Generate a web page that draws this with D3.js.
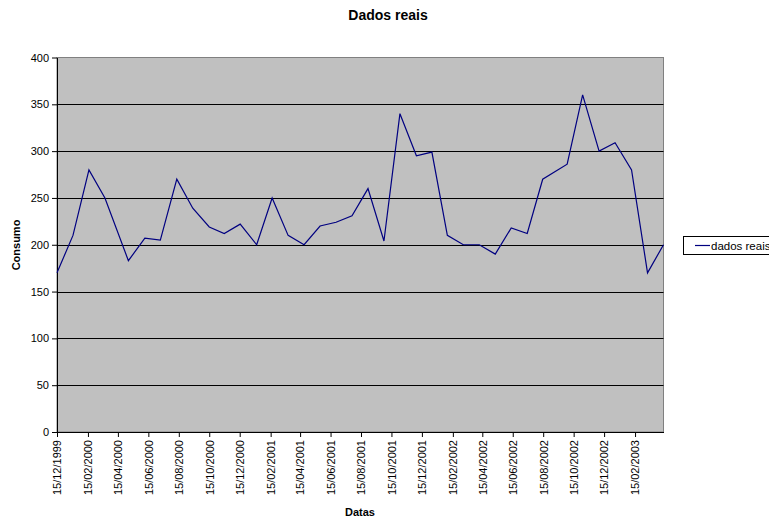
<!DOCTYPE html>
<html>
<head>
<meta charset="utf-8">
<script src="https://cdn.jsdelivr.net/npm/d3@7/dist/d3.min.js"></script>
<style>
  html, body { margin: 0; padding: 0; background: #ffffff; }
  svg { display: block; font-family: "Liberation Sans", Arial, sans-serif; }
</style>
</head>
<body>
<svg id="chart" width="769" height="519"></svg>
<script>
// ---- data ----
const dates = [
  "15/12/1999","16/01/2000","17/02/2000","20/03/2000","06/05/2000","08/06/2000",
  "09/07/2000","11/08/2000","12/09/2000","15/10/2000","14/11/2000","16/12/2000",
  "18/01/2001","18/02/2001","22/03/2001","23/04/2001","25/05/2001","26/06/2001",
  "28/07/2001","29/08/2001","30/09/2001","01/11/2001","04/12/2001","04/01/2002",
  "04/02/2002","08/03/2002","09/04/2002","11/05/2002","12/06/2002","14/07/2002",
  "14/08/2002","02/10/2002","02/11/2002","05/12/2002","06/01/2003","08/02/2003",
  "12/03/2003","13/04/2003"
];
const consumo = [
  170, 210, 280, 250, 183, 207,
  205, 270, 239, 219, 212, 222,
  200, 250, 210, 200, 220, 224,
  231, 260, 204, 340, 295, 299,
  210, 200, 200, 190, 218, 212,
  270, 286, 360, 300, 309, 280,
  170, 200
];
const xTickLabels = [
  "15/12/1999","15/02/2000","15/04/2000","15/06/2000","15/08/2000","15/10/2000",
  "15/12/2000","15/02/2001","15/04/2001","15/06/2001","15/08/2001","15/10/2001",
  "15/12/2001","15/02/2002","15/04/2002","15/06/2002","15/08/2002","15/10/2002",
  "15/12/2002","15/02/2003"
];
const yTicks = [0, 50, 100, 150, 200, 250, 300, 350, 400];
const seriesName = "dados reais";
const title = "Dados reais";
const xTitle = "Datas";
const yTitle = "Consumo";

// ---- layout ----
const parse = d3.timeParse("%d/%m/%Y");
const svg = d3.select("#chart");
const plot = { left: 57, top: 57.5, right: 663.5, bottom: 432 };

const points = dates.map((d, i) => ({ date: parse(d), value: consumo[i] }));

const x = d3.scaleTime()
  .domain(d3.extent(points, d => d.date))
  .range([plot.left, plot.right]);
const y = d3.scaleLinear()
  .domain([0, 400])
  .range([plot.bottom, plot.top]);

// plot background
svg.append("rect")
  .attr("x", plot.left).attr("y", plot.top)
  .attr("width", plot.right - plot.left).attr("height", plot.bottom - plot.top)
  .attr("fill", "#c0c0c0")
  .attr("stroke", "#808080").attr("stroke-width", 1);

// gridlines
svg.append("g")
  .selectAll("line")
  .data(yTicks.filter(v => v > 0 && v < 400))
  .join("line")
  .attr("x1", plot.left).attr("x2", plot.right)
  .attr("y1", d => Math.round(y(d)) + 0.5).attr("y2", d => Math.round(y(d)) + 0.5)
  .attr("stroke", "#000000").attr("stroke-width", 1);

// y axis
const yAxis = svg.append("g")
  .attr("transform", `translate(${plot.left},0)`)
  .call(d3.axisLeft(y).tickValues(yTicks).tickSize(5).tickSizeOuter(0)
    .tickPadding(3).tickFormat(d3.format("d")));
yAxis.select(".domain").attr("stroke", "#000");
yAxis.selectAll(".tick line").attr("stroke", "#000");
yAxis.selectAll("text").attr("font-size", 11).attr("fill", "#000")
  .attr("font-family", "'Liberation Sans', Arial, sans-serif");

// x axis
const xAxis = svg.append("g")
  .attr("transform", `translate(0,${plot.bottom})`)
  .call(d3.axisBottom(x)
    .tickValues(xTickLabels.map(parse))
    .tickSize(5).tickSizeOuter(0)
    .tickFormat(d3.timeFormat("%d/%m/%Y")));
xAxis.select(".domain").attr("stroke", "#000");
xAxis.selectAll(".tick line").attr("stroke", "#000");
xAxis.selectAll("text")
  .attr("font-size", 11).attr("fill", "#000")
  .attr("font-family", "'Liberation Sans', Arial, sans-serif")
  .attr("transform", "rotate(-90)")
  .attr("text-anchor", "end")
  .attr("x", -8).attr("y", 0).attr("dy", "0.35em");

// line
svg.append("path")
  .datum(points)
  .attr("fill", "none")
  .attr("stroke", "#000080")
  .attr("stroke-width", 1.2)
  .attr("d", d3.line().x(d => x(d.date)).y(d => y(d.value)));

// titles
svg.append("text")
  .attr("x", 388).attr("y", 20)
  .attr("text-anchor", "middle")
  .attr("font-size", 14).attr("font-weight", "bold")
  .text(title);
svg.append("text")
  .attr("x", 360).attr("y", 516)
  .attr("text-anchor", "middle")
  .attr("font-size", 11).attr("font-weight", "bold")
  .text(xTitle);
svg.append("text")
  .attr("transform", "translate(20,245) rotate(-90)")
  .attr("text-anchor", "middle")
  .attr("font-size", 11).attr("font-weight", "bold")
  .text(yTitle);

// legend
const lg = svg.append("g");
lg.append("rect")
  .attr("x", 683.5).attr("y", 236.5)
  .attr("width", 100).attr("height", 18)
  .attr("fill", "#fff").attr("stroke", "#000").attr("stroke-width", 1);
lg.append("line")
  .attr("x1", 695).attr("x2", 710).attr("y1", 245.5).attr("y2", 245.5)
  .attr("stroke", "#000080").attr("stroke-width", 1.2);
lg.append("text")
  .attr("x", 711).attr("y", 249.5)
  .attr("font-size", 11.5)
  .text(seriesName);
</script>
</body>
</html>
